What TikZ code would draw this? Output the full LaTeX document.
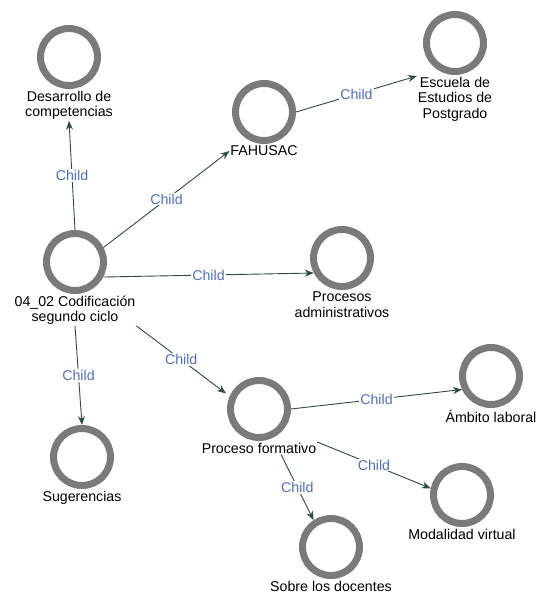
\documentclass[tikz,border=0pt]{standalone}
\usepackage{fontspec}
\setmainfont{Liberation Sans}
\usetikzlibrary{arrows.meta,positioning}
\definecolor{ringgray}{RGB}{122,122,122}
\definecolor{linkgreen}{RGB}{48,74,70}
\definecolor{tagblue}{RGB}{82,112,178}

\begin{document}
\begin{tikzpicture}[
    x=1pt, y=-1pt,
    concept/.style={circle, draw=ringgray, line width=7pt, minimum size=57pt, inner sep=0pt},
    caption/.style={inner sep=0pt, outer sep=1pt, align=center, font=\fontsize{14.2}{15.5}\selectfont},
    link/.style={-{Stealth[length=9pt, width=7pt]}, linkgreen, line width=0.9pt},
    tag/.style={fill=white, inner sep=1pt, text=tagblue, font=\fontsize{14.2}{15.5}\selectfont}
]
\useasboundingbox (0,0) rectangle (537,599);

% Root code
\node[concept] (root) at (75,262) {};
\node[caption, below=1pt of root] (rootlbl) {04\_02 Codificación\\segundo ciclo};

% First level
\node[concept] (desarrollo) at (69,57) {};
\node[caption, below=1pt of desarrollo] (desarrollolbl) {Desarrollo de\\competencias};

\node[concept] (fahusac) at (264,112) {};
\node[caption, below=1pt of fahusac] (fahusaclbl) {FAHUSAC};

\node[concept] (procadm) at (342,258) {};
\node[caption, below=1pt of procadm] (procadmlbl) {Procesos\\administrativos};

\node[concept] (procform) at (259,409) {};
\node[caption, below=1pt of procform] (procformlbl) {Proceso formativo};

\node[concept] (sugerencias) at (82,457) {};
\node[caption, below=1pt of sugerencias] (sugerenciaslbl) {Sugerencias};

% Second level
\node[concept] (escuela) at (455,43) {};
\node[caption, below=1pt of escuela] (escuelalbl) {Escuela de\\Estudios de\\Postgrado};

\node[concept] (ambito) at (491,376) {};
\node[caption, below=1pt of ambito] (ambitolbl) {Ámbito laboral};

\node[concept] (modalidad) at (462,495) {};
\node[caption, below=1pt of modalidad] (modalidadlbl) {Modalidad virtual};

\node[concept] (docentes) at (331,547) {};
\node[caption, below=1pt of docentes] (docenteslbl) {Sobre los docentes};

% Links
\draw[link] (root.north) -- node[tag] {Child} (desarrollolbl.south);
\draw[link] (root.27) -- node[tag] {Child} (fahusaclbl.west);
\draw[link] (fahusac.east) -- node[tag] {Child} (escuelalbl.north west);
\draw[link] (root.-28) -- node[tag] {Child} (procadm.208);
\draw[link] (rootlbl.south east) -- node[tag] {Child} ([shift={(-4,-2)}]procform.155);
\draw[link] (rootlbl.south) -- node[tag] {Child} (sugerencias.north);
\draw[link] (procform.east) -- node[tag] {Child} (ambito.205);
\draw[link] (procformlbl.north east) -- node[tag] {Child} (modalidad.168);
\draw[link] ([xshift=22pt]procformlbl.south) -- node[tag] {Child} (docentes.123);

\end{tikzpicture}
\end{document}
